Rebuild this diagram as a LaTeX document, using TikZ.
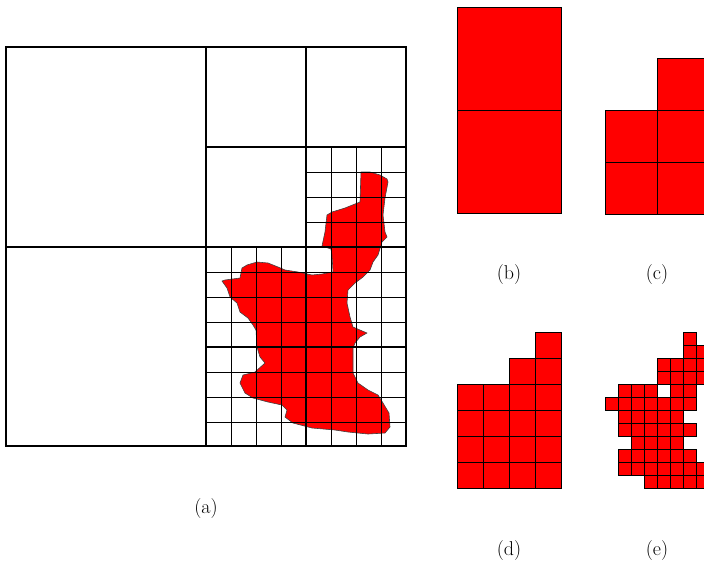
\documentclass[tikz,border=0pt]{standalone}
\usepackage{fontspec}
\usepackage{tikz}
\usetikzlibrary{positioning}
\tikzset{
  region/.style={fill=red, draw=black!75, line width=0.6pt, line join=round},
  fine/.style={draw=black, line width=1pt},
  coarse/.style={draw=black, line width=1.8pt},
  cell/.style={fill=red, draw=black, line width=0.8pt},
  caption/.style={font=\fontsize{20}{24}\selectfont, inner sep=0pt}
}

\begin{document}
\begin{tikzpicture}[x=1pt, y=-1pt]
  \path[use as bounding box] (0,0) rectangle (704,563);
  \begin{scope}
  \clip (0,0) rectangle (704,563);

  % Region inside the quadtree
  \draw[region] (361,172) -- (370,172) -- (380,175) -- (387,179) -- (388,182)
    -- (385,198) -- (383,215) -- (385,232) -- (387,237) -- (382,242)
    -- (378,255) -- (373,262) -- (370,270) -- (363,277) -- (355,283)
    -- (348,290) -- (347,303) -- (350,317) -- (353,327) -- (360,330)
    -- (367,333) -- (360,337) -- (355,343) -- (353,348) -- (353,360)
    -- (353,373) -- (358,383) -- (368,390) -- (378,395) -- (383,403)
    -- (389,413) -- (390,427) -- (385,433) -- (368,434) -- (348,432)
    -- (335,430) -- (312,428) -- (293,423) -- (285,417) -- (287,410)
    -- (282,405) -- (268,402) -- (253,398) -- (245,393) -- (240,383)
    -- (243,375) -- (255,372) -- (265,363) -- (260,357) -- (257,347)
    -- (256,330) -- (253,325) -- (248,318) -- (240,312) -- (237,303)
    -- (230,297) -- (227,288) -- (222,281) -- (225,280) -- (240,278)
    -- (242,268) -- (247,265) -- (257,262) -- (268,263) -- (278,267)
    -- (285,270) -- (298,272) -- (312,275) -- (322,274) -- (333,272)
    -- (332,255) -- (331,249) -- (322,246) -- (325,232) -- (327,215)
    -- (332,212) -- (345,208) -- (360,202) -- cycle;

  % Fine cells (a)
  \foreach \i in {1,...,7} {
    \draw[fine] (206+25*\i,247) -- (206+25*\i,446);
    \draw[fine] (206,247+25*\i) -- (406,247+25*\i);
  }
  \foreach \i in {1,...,3} {
    \draw[fine] (306+25*\i,147) -- (306+25*\i,247);
    \draw[fine] (306,147+25*\i) -- (406,147+25*\i);
  }

  % Coarse cells (a)
  \draw[coarse] (6,47) rectangle (406,446);
  \draw[coarse] (206,47) -- (206,446);
  \draw[coarse] (6,247) -- (406,247);
  \draw[coarse] (306,47) -- (306,446);
  \draw[coarse] (206,147) -- (406,147);
  \draw[coarse] (206,347) -- (406,347);

  % Level 1 (b)
  \foreach \r in {0,1}
    \draw[cell] (457,7+103*\r) rectangle ++(104,103);

  % Level 2 (c)
  \foreach \r/\c in {0/1, 1/0, 1/1, 2/0, 2/1}
    \draw[cell] (605+52*\c,58+52*\r) rectangle ++(52,52);

  % Level 3 (d)
  \foreach \r/\cl in {0/{3}, 1/{2,3}, 2/{0,1,2,3}, 3/{0,1,2,3},
                      4/{0,1,2,3}, 5/{0,1,2,3}}
    \foreach \c in \cl
      \draw[cell] (457+26*\c,332+26*\r) rectangle ++(26,26);

  % Level 4 (e)
  \foreach \r/\cl in {0/{6}, 1/{6,7}, 2/{4,5,6,7}, 3/{4,5,6,7},
                      4/{1,2,3,5,6}, 5/{0,1,2,3,4,5,6}, 6/{1,2,3,4,5},
                      7/{1,2,3,4,5,6}, 8/{2,3,4,5}, 9/{1,2,3,4,5,6},
                      10/{1,2,3,4,5,6,7}, 11/{3,4,5,6,7}}
    \foreach \c in \cl
      \draw[cell, line width=0.7pt] (605+13*\c,332+13*\r) rectangle ++(13,13);
  \end{scope}

  % Captions
  \node[caption] (capa) at (206,509) {(a)};
  \node[caption] (capb) at (509,275) {(b)};
  \node[caption] (capc) at (657,275) {(c)};
  \node[caption] (capd) at (509,550) {(d)};
  \node[caption] (cape) at (657,550) {(e)};
\end{tikzpicture}
\end{document}
